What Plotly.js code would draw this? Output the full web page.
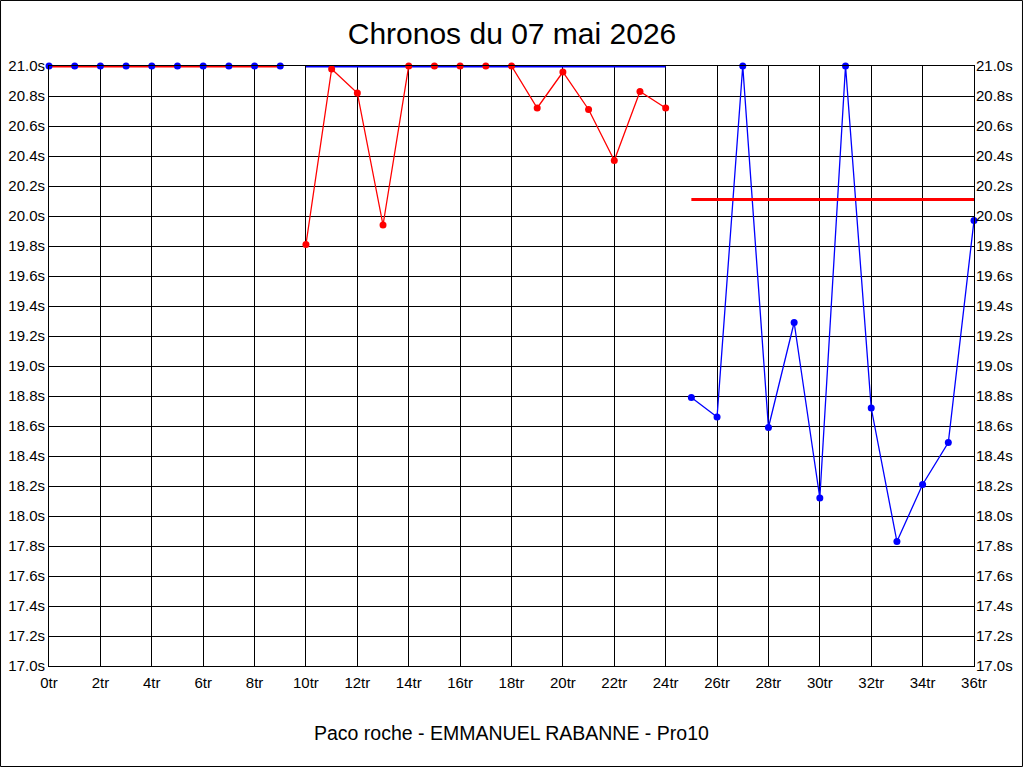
<!DOCTYPE html>
<html>
<head>
<meta charset="utf-8">
<script src="https://cdn.plot.ly/plotly-3.0.1.min.js"></script>
<style>
body { margin: 0; background: #fff; }
#chart { width: 1024px; height: 768px; }
</style>
</head>
<body>
<div id="chart"></div>
<script>
// tours et chronos (secondes), par groupe
var toursA = [0, 1, 2, 3, 4, 5, 6, 7, 8, 9];
var chronosA = [21.0, 21.0, 21.0, 21.0, 21.0, 21.0, 21.0, 21.0, 21.0, 21.0];

var toursB = [10, 11, 12, 13, 14, 15, 16, 17, 18, 19, 20, 21, 22, 23, 24];
var chronosB = [19.81, 20.98, 20.82, 19.94, 21.0, 21.0, 21.0, 21.0, 21.0, 20.72, 20.96, 20.71, 20.37, 20.83, 20.72];

var toursC = [25, 26, 27, 28, 29, 30, 31, 32, 33, 34, 35, 36];
var chronosC = [18.79, 18.66, 21.0, 18.59, 19.29, 18.12, 21.0, 18.72, 17.83, 18.21, 18.49, 19.97];

// niveaux de référence par groupe
var niveauA = 21.0;
var niveauB = 21.0;
var niveauC = 20.11;

var rouge = '#ff0000';
var bleu = '#0000ff';

function niveau(tours, val, couleur) {
  return {
    x: [tours[0], tours[tours.length - 1]],
    y: [val, val],
    mode: 'lines',
    line: {color: couleur, width: 3},
    cliponaxis: false,
    hoverinfo: 'skip'
  };
}

function ligne(tours, chronos, couleur) {
  return {x: tours, y: chronos, mode: 'lines', line: {color: couleur, width: 1.3}};
}

function points(tours, chronos, couleur) {
  return {x: tours, y: chronos, mode: 'markers', cliponaxis: false, marker: {color: couleur, size: 7}};
}

var data = [
  ligne(toursA, chronosA, bleu),
  ligne(toursB, chronosB, rouge),
  ligne(toursC, chronosC, bleu),
  niveau(toursA, niveauA, rouge),
  niveau(toursB, niveauB, bleu),
  niveau(toursC, niveauC, rouge),
  points(toursA, chronosA, bleu),
  points(toursB, chronosB, rouge),
  points(toursC, chronosC, bleu),
  // copie invisible pour l'axe de droite
  {x: toursC, y: chronosC, yaxis: 'y2', mode: 'markers', marker: {opacity: 0}, hoverinfo: 'skip'}
];

var police = {family: 'Liberation Sans, Arial, sans-serif', color: '#000'};

var layout = {
  width: 1024,
  height: 768,
  margin: {l: 49, r: 50, t: 66, b: 102},
  paper_bgcolor: '#fff',
  plot_bgcolor: '#fff',
  showlegend: false,
  font: police,
  title: {
    text: 'Chronos du 07 mai 2026',
    font: {family: police.family, size: 30, color: '#000'},
    x: 0.5, xanchor: 'center',
    y: 0.957, yanchor: 'middle'
  },
  xaxis: {
    range: [0, 36],
    tick0: 0, dtick: 2,
    ticksuffix: 'tr',
    showgrid: true, gridcolor: '#000', gridwidth: 1,
    zeroline: false,
    showline: true, linecolor: '#000', linewidth: 1, mirror: true,
    ticks: '',
    ticklabelstandoff: 3,
    tickfont: {size: 15, color: '#000'},
    fixedrange: true
  },
  yaxis: {
    range: [17, 21],
    tick0: 17, dtick: 0.2,
    tickformat: '.1f',
    ticksuffix: 's',
    showgrid: true, gridcolor: '#000', gridwidth: 1,
    zeroline: false,
    showline: true, linecolor: '#000', linewidth: 1, mirror: true,
    ticks: '',
    tickfont: {size: 15, color: '#000'},
    fixedrange: true
  },
  yaxis2: {
    overlaying: 'y',
    side: 'right',
    range: [17, 21],
    tick0: 17, dtick: 0.2,
    tickformat: '.1f',
    ticksuffix: 's',
    showgrid: false,
    zeroline: false,
    ticks: '',
    ticklabelstandoff: 1,
    tickfont: {size: 15, color: '#000'},
    fixedrange: true
  },
  annotations: [{
    text: 'Paco roche - EMMANUEL RABANNE - Pro10',
    xref: 'paper', yref: 'paper',
    x: 0.5, y: -0.1117,
    xanchor: 'center', yanchor: 'middle',
    showarrow: false,
    font: {family: police.family, size: 19.5, color: '#000'}
  }],
  shapes: [{
    type: 'rect',
    xref: 'paper', yref: 'paper',
    x0: -0.0524, x1: 1.0524,
    y0: -0.1675, y1: 1.1092,
    line: {color: '#000', width: 1},
    layer: 'above'
  }]
};

Plotly.newPlot('chart', data, layout, {displayModeBar: false, staticPlot: true});
</script>
</body>
</html>
